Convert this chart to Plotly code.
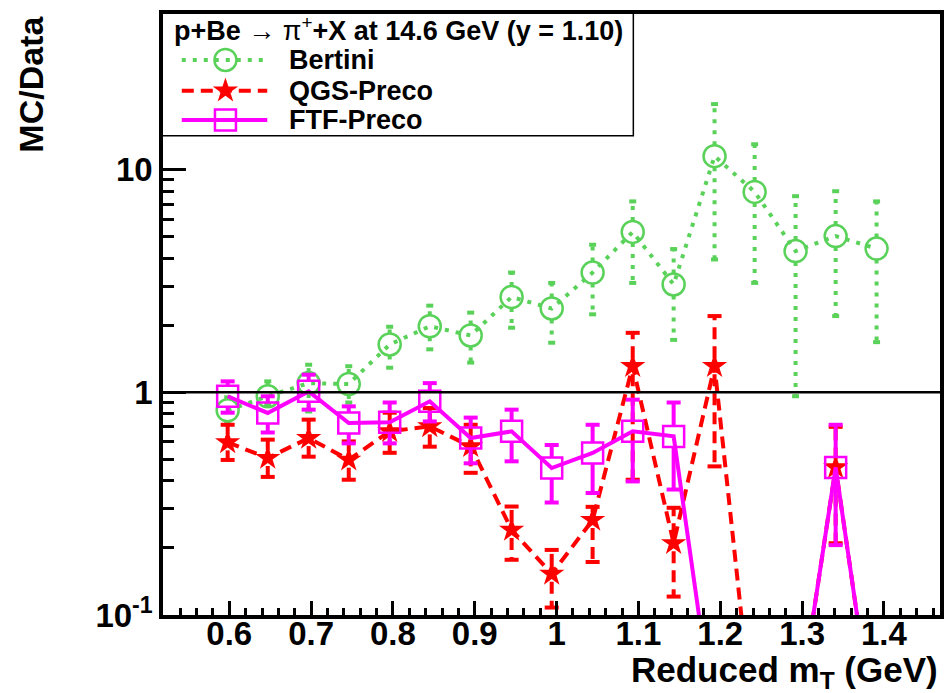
import math
import plotly.graph_objects as go

# ---- data: MC/Data ratio vs reduced transverse mass, p+Be -> pi+ X, 14.6 GeV, y = 1.10
mt = [0.598, 0.647, 0.697, 0.746, 0.796, 0.845, 0.895, 0.945, 0.994,
      1.044, 1.093, 1.143, 1.193, 1.242, 1.292, 1.341, 1.391]

bertini = [0.83, 0.96, 1.10, 1.09, 1.64, 1.98, 1.80, 2.68, 2.38,
           3.45, 5.25, 3.05, 11.5, 7.94, 4.31, 5.03, 4.42]
bertini_lo = [0.72, 0.88, 0.82, 0.90, 1.29, 1.56, 1.36, 1.95, 1.67,
              2.24, 3.10, 1.72, 3.95, 3.10, 0.96, 2.20, 1.68]
bertini_hi = [0.95, 1.12, 1.33, 1.31, 1.97, 2.45, 2.28, 3.45, 3.10,
              4.60, 7.20, 4.40, 19.7, 13.0, 7.60, 8.00, 7.20]

qgs = [0.596, 0.507, 0.623, 0.498, 0.668, 0.703, 0.572, 0.241, 0.153,
       0.267, 1.31, 0.210, 1.31, 0.0277, 0.0298, 0.46, 0.0247]
qgs_lo = [0.497, 0.417, 0.514, 0.405, 0.535, 0.570, 0.435, 0.177, 0.108,
          0.173, 0.405, 0.121, 0.465, None, None, 0.210, None]
qgs_hi = [0.715, 0.613, 0.754, 0.602, 0.810, 0.850, 0.715, 0.307, 0.196,
          0.306, 1.85, 0.303, 2.20, None, None, 0.700, None]

ftf = [0.96, 0.808, 1.01, 0.728, 0.733, 0.911, 0.623, 0.668, 0.457,
       0.534, 0.668, 0.634, 0.032, 0.030, 0.0298, 0.46, 0.0247]
ftf_lo = [0.81, 0.66, 0.836, 0.59, 0.59, 0.74, 0.48, 0.49, 0.32,
          0.353, 0.398, 0.366, None, None, None, 0.206, None]
ftf_hi = [1.12, 0.96, 1.20, 0.865, 0.90, 1.10, 0.77, 0.836, 0.58,
          0.715, 0.927, 0.90, None, None, None, 0.715, None]

series_names = ["Bertini", "QGS-Preco", "FTF-Preco"]
title_text = ("<b>p+Be</b> <span style='font-weight:normal'>\u2192 \u03c0</span>"
              "<sup>+</sup><b>+X at 14.6 GeV (y = 1.10)</b>")

# ---- geometry / style
W, H = 948, 693
ML, MR, MT, MB = 163, 4, 14, 78
X_RANGE = [0.519, 1.4685]
Y_MIN, Y_MAX = 0.1, 50.0
plot_h = H - MT - MB
px_per_dec = plot_h / (math.log10(Y_MAX) - math.log10(Y_MIN))

GREEN = "rgb(90,210,90)"
RED = "rgb(255,0,0)"
MAGENTA = "rgb(255,0,255)"
FONT = "Liberation Sans, Arial, Helvetica, sans-serif"

styles = [
    dict(y=bertini, lo=bertini_lo, hi=bertini_hi, color=GREEN, dash="4px,7px",
         symbol="circle-open", size=22, mlw=2.5, half=11, cap=5),
    dict(y=qgs, lo=qgs_lo, hi=qgs_hi, color=RED, dash="12px,7px",
         symbol="star", size=19, mlw=0, half=8, cap=10),
    dict(y=ftf, lo=ftf_lo, hi=ftf_hi, color=MAGENTA, dash="solid",
         symbol="square-open", size=21, mlw=2.5, half=11, cap=10),
]


def error_segments(xs, ys, los, his, half_px):
    """Vertical error-bar pieces that stop at the marker outline."""
    g = 10 ** (half_px / px_per_dec)
    sx, sy, cx, cy = [], [], [], []
    for x, y, lo, hi in zip(xs, ys, los, his):
        if lo is None or hi is None:
            continue
        if hi > y * g:
            sx += [x, x, None]
            sy += [y * g, hi, None]
        if lo < y / g:
            sx += [x, x, None]
            sy += [y / g, lo, None]
        cx += [x, x]
        cy += [lo, hi]
    return sx, sy, cx, cy


fig = go.Figure()

for name, st in zip(series_names, styles):
    sx, sy, cx, cy = error_segments(mt, st["y"], st["lo"], st["hi"], st["half"])
    fig.add_trace(go.Scatter(x=sx, y=sy, mode="lines", showlegend=False,
                             line=dict(color=st["color"], width=4, dash=st["dash"]),
                             hoverinfo="skip"))
    fig.add_trace(go.Scatter(x=cx, y=cy, mode="markers", showlegend=False,
                             marker=dict(symbol="line-ew", size=st["cap"],
                                         line=dict(color=st["color"], width=4)),
                             hoverinfo="skip"))
    fig.add_trace(go.Scatter(x=mt, y=st["y"], mode="lines+markers", name=name,
                             showlegend=False,
                             line=dict(color=st["color"], width=4, dash=st["dash"]),
                             marker=dict(symbol=st["symbol"], size=st["size"],
                                         color=st["color"],
                                         line=dict(color=st["color"], width=st["mlw"]))))

# ---- hand-drawn legend box in the top-left corner
box_x1 = (635 - ML) / (W - ML - MR)
box_y0 = (615 - 135) / plot_h
row_y = [0.62, 0.366, 0.124]
for name, st, ry in zip(series_names, styles, row_y):
    fig.add_trace(go.Scatter(x=[0.04, 0.222], y=[ry, ry], mode="lines",
                             xaxis="x2", yaxis="y2", showlegend=False,
                             line=dict(color=st["color"], width=4, dash=st["dash"]),
                             hoverinfo="skip"))
    fig.add_trace(go.Scatter(x=[0.133], y=[ry], mode="markers",
                             xaxis="x2", yaxis="y2", showlegend=False,
                             marker=dict(symbol=st["symbol"], size=st["size"],
                                         color=st["color"],
                                         line=dict(color=st["color"], width=st["mlw"])),
                             hoverinfo="skip"))

annotations = [
    dict(text=title_text, xref="x2", yref="y2", x=0.019, y=0.875,
         xanchor="left", yanchor="middle", showarrow=False,
         font=dict(family=FONT, size=27, color="black")),
]
for name, ry in zip(series_names, row_y):
    annotations.append(dict(text=name, xref="x2", yref="y2", x=0.265, y=ry,
                            xanchor="left", yanchor="middle", showarrow=False,
                            font=dict(family=FONT, size=27, color="black", weight="bold")))
annotations += [
    dict(text="MC/Data", xref="paper", yref="paper", x=(30 - ML) / (W - ML - MR),
         y=(615 - 84) / plot_h, xanchor="center", yanchor="middle", textangle=-90,
         showarrow=False, font=dict(family=FONT, size=34, color="black", weight="bold")),
    dict(text="Reduced m<sub>T</sub> (GeV)", xref="paper", yref="paper", x=1.0,
         y=(615 - 672) / plot_h, xanchor="right", yanchor="middle",
         showarrow=False, font=dict(family=FONT, size=35, color="black", weight="bold")),
]

shapes = [
    dict(type="rect", xref="paper", yref="paper", x0=0, x1=box_x1, y0=box_y0, y1=1,
         line=dict(color="black", width=3), fillcolor="white", layer="below"),
    dict(type="line", xref="paper", yref="y", x0=0, x1=1, y0=1, y1=1,
         line=dict(color="black", width=2.5), layer="above"),
]

y_minor = [m * 10 ** e for e in (-1, 0, 1) for m in range(2, 10) if m * 10 ** e <= Y_MAX]

fig.update_layout(
    width=W, height=H,
    margin=dict(l=ML, r=MR, t=MT, b=MB, pad=0),
    paper_bgcolor="white", plot_bgcolor="white",
    showlegend=False,
    xaxis=dict(range=X_RANGE, tick0=0, dtick=0.1, ticks="inside", ticklen=14,
               tickwidth=2.5, tickcolor="black", showgrid=False, zeroline=False,
               showline=True, mirror=True, linecolor="black", linewidth=3.5,
               ticklabelstandoff=-13,
               tickfont=dict(family=FONT, size=33, color="black", weight="bold"),
               minor=dict(ticks="inside", dtick=0.02, tick0=0, ticklen=7,
                          tickwidth=2.5, tickcolor="black", showgrid=False)),
    yaxis=dict(type="log", range=[math.log10(Y_MIN), math.log10(Y_MAX)],
               tickmode="array", tickvals=[0.1, 1, 10],
               ticktext=["10<sup>-1</sup>", "1", "10"],
               ticks="inside", ticklen=23, tickwidth=2.5, tickcolor="black",
               showgrid=False, zeroline=False, showline=True, mirror=True,
               linecolor="black", linewidth=3.5,
               tickfont=dict(family=FONT, size=33, color="black", weight="bold"),
               minor=dict(ticks="inside", tickmode="array", tickvals=y_minor,
                          ticklen=11, tickwidth=2.5, tickcolor="black", showgrid=False)),
    xaxis2=dict(domain=[0, box_x1], range=[0, 1], visible=False, anchor="y2"),
    yaxis2=dict(domain=[box_y0, 1], range=[0, 1], visible=False, anchor="x2"),
    shapes=shapes,
    annotations=annotations,
)

fig.write_html("out.html")
